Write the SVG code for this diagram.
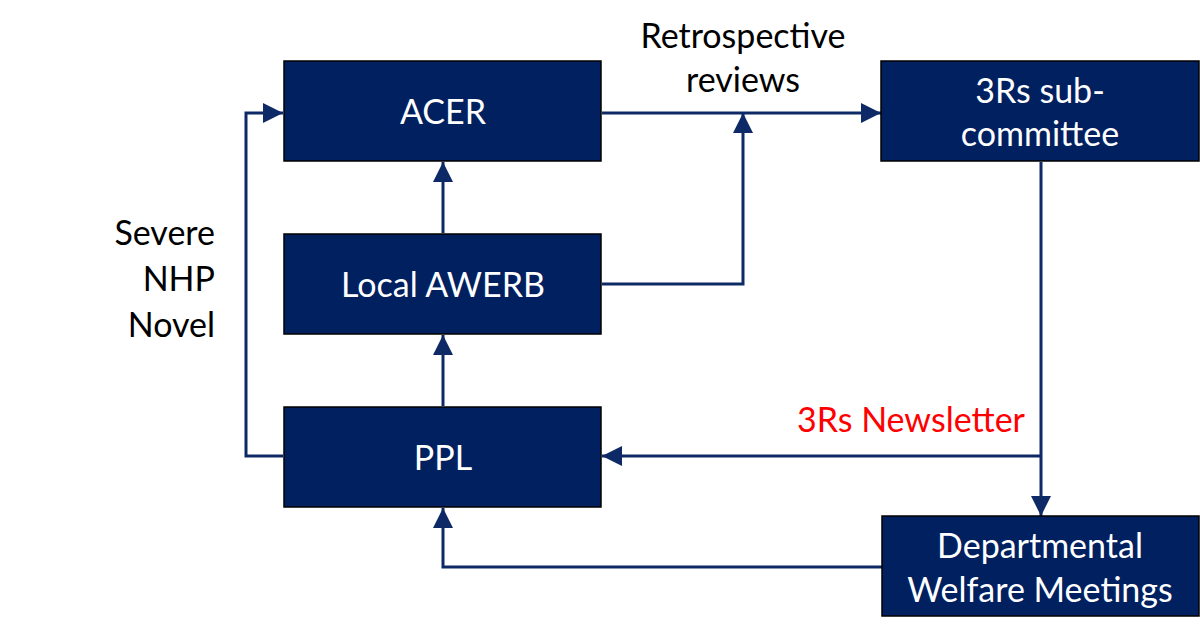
<svg xmlns="http://www.w3.org/2000/svg" width="1200" height="635" viewBox="0 0 1200 635">
<style>
.box{fill:#002060;stroke:#000;stroke-width:1.5}
.bt{fill:#fff;font-family:Lato,"Liberation Sans",sans-serif;font-size:34px;text-anchor:middle}
.lt{fill:#000;font-family:Lato,"Liberation Sans",sans-serif;font-size:34px}
.red{fill:#ff0000}
.c{fill:none;stroke:#0e2a66;stroke-width:3}
</style>
<defs>
<marker id="ah" viewBox="0 0 20 20" refX="20" refY="10" markerWidth="20" markerHeight="20" markerUnits="userSpaceOnUse" orient="auto">
<path d="M0,0 L20,10 L0,20 Z" fill="#0e2a66"/>
</marker>
</defs>
<rect width="1200" height="635" fill="#fff"/>
<g id="connectors">
<path class="c" d="M602,113 H881" marker-end="url(#ah)"/>
<path class="c" d="M602,284 H743 V113" marker-end="url(#ah)"/>
<path class="c" d="M443,233 V162" marker-end="url(#ah)"/>
<path class="c" d="M443,406 V335" marker-end="url(#ah)"/>
<path class="c" d="M283,456 H246 V113 H283" marker-end="url(#ah)"/>
<path class="c" d="M1041,162 V516" marker-end="url(#ah)"/>
<path class="c" d="M1041,456 H602" marker-end="url(#ah)"/>
<path class="c" d="M882,567 H443 V508" marker-end="url(#ah)"/>
</g>
<g id="acer">
<rect class="box" x="284" y="61" width="317" height="100"/>
<text class="bt" x="443" y="124">ACER</text>
</g>
<g id="awerb">
<rect class="box" x="284" y="234" width="317" height="100"/>
<text class="bt" x="443" y="297">Local AWERB</text>
</g>
<g id="ppl">
<rect class="box" x="284" y="407" width="317" height="100"/>
<text class="bt" x="443" y="470">PPL</text>
</g>
<g id="sub3rs">
<rect class="box" x="881" y="61" width="318" height="100"/>
<text class="bt" x="1040" y="103">3Rs sub-</text>
<text class="bt" x="1040" y="146">committee</text>
</g>
<g id="dwm">
<rect class="box" x="882" y="516" width="317" height="100"/>
<text class="bt" x="1040" y="558">Departmental</text>
<text class="bt" x="1040" y="602">Welfare Meetings</text>
</g>
<g id="labels">
<text class="lt" x="743" y="48" text-anchor="middle">Retrospective</text>
<text class="lt" x="743" y="92" text-anchor="middle">reviews</text>
<text class="lt" x="215" y="245" text-anchor="end">Severe</text>
<text class="lt" x="215" y="291" text-anchor="end">NHP</text>
<text class="lt" x="215" y="337" text-anchor="end">Novel</text>
<text class="lt red" x="1025" y="432" text-anchor="end">3Rs Newsletter</text>
</g>
</svg>
